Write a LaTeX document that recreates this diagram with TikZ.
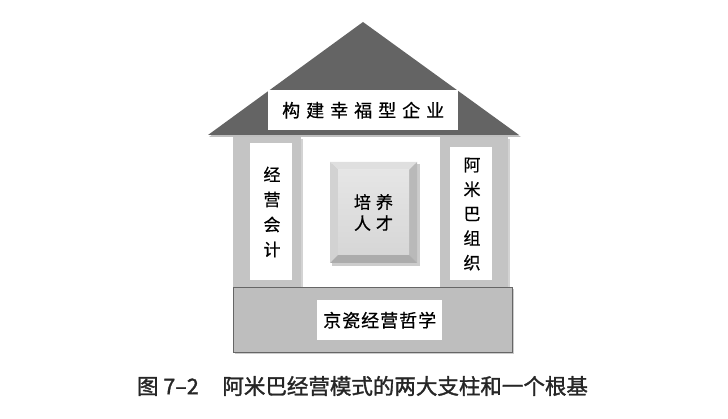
\documentclass[tikz,border=0pt]{standalone}
\usepackage{fontspec}
\newfontfamily\cjk{Noto Sans CJK SC}
\newfontfamily\cjkm[FakeBold=0.6]{Noto Sans CJK SC}
\newfontfamily\cjkb[FakeBold=1.5]{Noto Sans CJK SC}
\usetikzlibrary{shadows}
\definecolor{roofgray}{HTML}{646464}
\definecolor{pillargray}{HTML}{C4C4C4}
\definecolor{basegray}{HTML}{BEBEBE}
\tikzset{
  label box/.style={fill=white, draw=none, inner sep=0pt},
  pillar/.style={fill=pillargray, draw=none, drop shadow={shadow xshift=1.5pt, shadow yshift=-1.5pt, opacity=0.35}},
  txt/.style={font=\cjk, text=black, inner sep=0pt}
}
\begin{document}
\begin{tikzpicture}[x=1pt,y=-1pt]
\useasboundingbox (0,0) rectangle (728,419);
% pillars
\node[pillar, minimum width=68pt, minimum height=150pt, anchor=north west] (lp) at (233,137) {};
\node[pillar, minimum width=68pt, minimum height=150pt, anchor=north west] (rp) at (440,137) {};
\node[label box, minimum width=42pt, minimum height=137pt, anchor=north west] (lpb) at (250,143) {};
\node[label box, minimum width=42pt, minimum height=133pt, anchor=north west] (rpb) at (450,147) {};
% base
\node[fill=basegray, draw=gray!80!black, line width=0.8pt, minimum width=279pt, minimum height=65pt, anchor=north west,
  drop shadow={shadow xshift=2pt, shadow yshift=-2pt, opacity=0.4}] (base) at (233,287) {};
\node[label box, minimum width=125pt, minimum height=40pt, anchor=north west] (baseb) at (317,300) {};
% roof
\fill[black, opacity=0.25] (209,137) -- (364,24) -- (521,137) -- cycle;
\fill[roofgray] (208,135) coordinate (rl) -- (363,22) coordinate (rt) -- (519,135) coordinate (rr) -- cycle;
\node[label box, minimum width=190pt, minimum height=40pt, anchor=north west] (roofb) at (268,90) {};
% center beveled box
\coordinate (c1) at (330,162); \coordinate (c2) at (417,162);
\coordinate (c3) at (417,263); \coordinate (c4) at (330,263);
\coordinate (i1) at (338,170); \coordinate (i2) at (409,170);
\coordinate (i3) at (409,255); \coordinate (i4) at (338,255);
\fill[black, opacity=0.2] (332,164) rectangle (420,266);
\fill[gray!25] (c1) -- (c2) -- (i2) -- (i1) -- cycle;
\fill[gray!35] (c1) -- (i1) -- (i4) -- (c4) -- cycle;
\fill[gray!55] (c2) -- (c3) -- (i3) -- (i2) -- cycle;
\fill[gray!65] (c4) -- (i4) -- (i3) -- (c3) -- cycle;
\shade[top color=gray!20, bottom color=gray!32] (i1) rectangle (i3);
\node[inner sep=0pt] (cbox) at (373.5,212.5) {};
% texts
\node[txt, font=\cjkm\fontsize{18}{18}\selectfont] (rooft) at (roofb.center) {构\hspace{6pt}建\hspace{6pt}幸\hspace{6pt}福\hspace{6pt}型\hspace{6pt}企\hspace{6pt}业};
\node[txt, font=\cjkm\fontsize{17}{25}\selectfont, align=center] (lpt) at (272,212) {经\\营\\会\\计};
\node[txt, font=\cjkm\fontsize{17}{24.5}\selectfont, align=center] (rpt) at (472,214) {阿\\米\\巴\\组\\织};
\node[txt, font=\cjkm\fontsize{17}{21}\selectfont, align=center] (ct) at (cbox.center) {培\hspace{5pt}养\\人\hspace{5pt}才};
\node[txt, font=\cjkm\fontsize{18}{18}\selectfont] (bt) at (baseb.center) {京\hspace{1pt}瓷\hspace{1pt}经\hspace{1pt}营\hspace{1pt}哲\hspace{1pt}学};
% caption
\node[txt, font=\cjkb\fontsize{21.5}{21.5}\selectfont, text=black!85] (cap) at (362.5,386) {图 7–2\hspace{1.1em}阿米巴经营模式的两大支柱和一个根基};
\end{tikzpicture}
\end{document}
